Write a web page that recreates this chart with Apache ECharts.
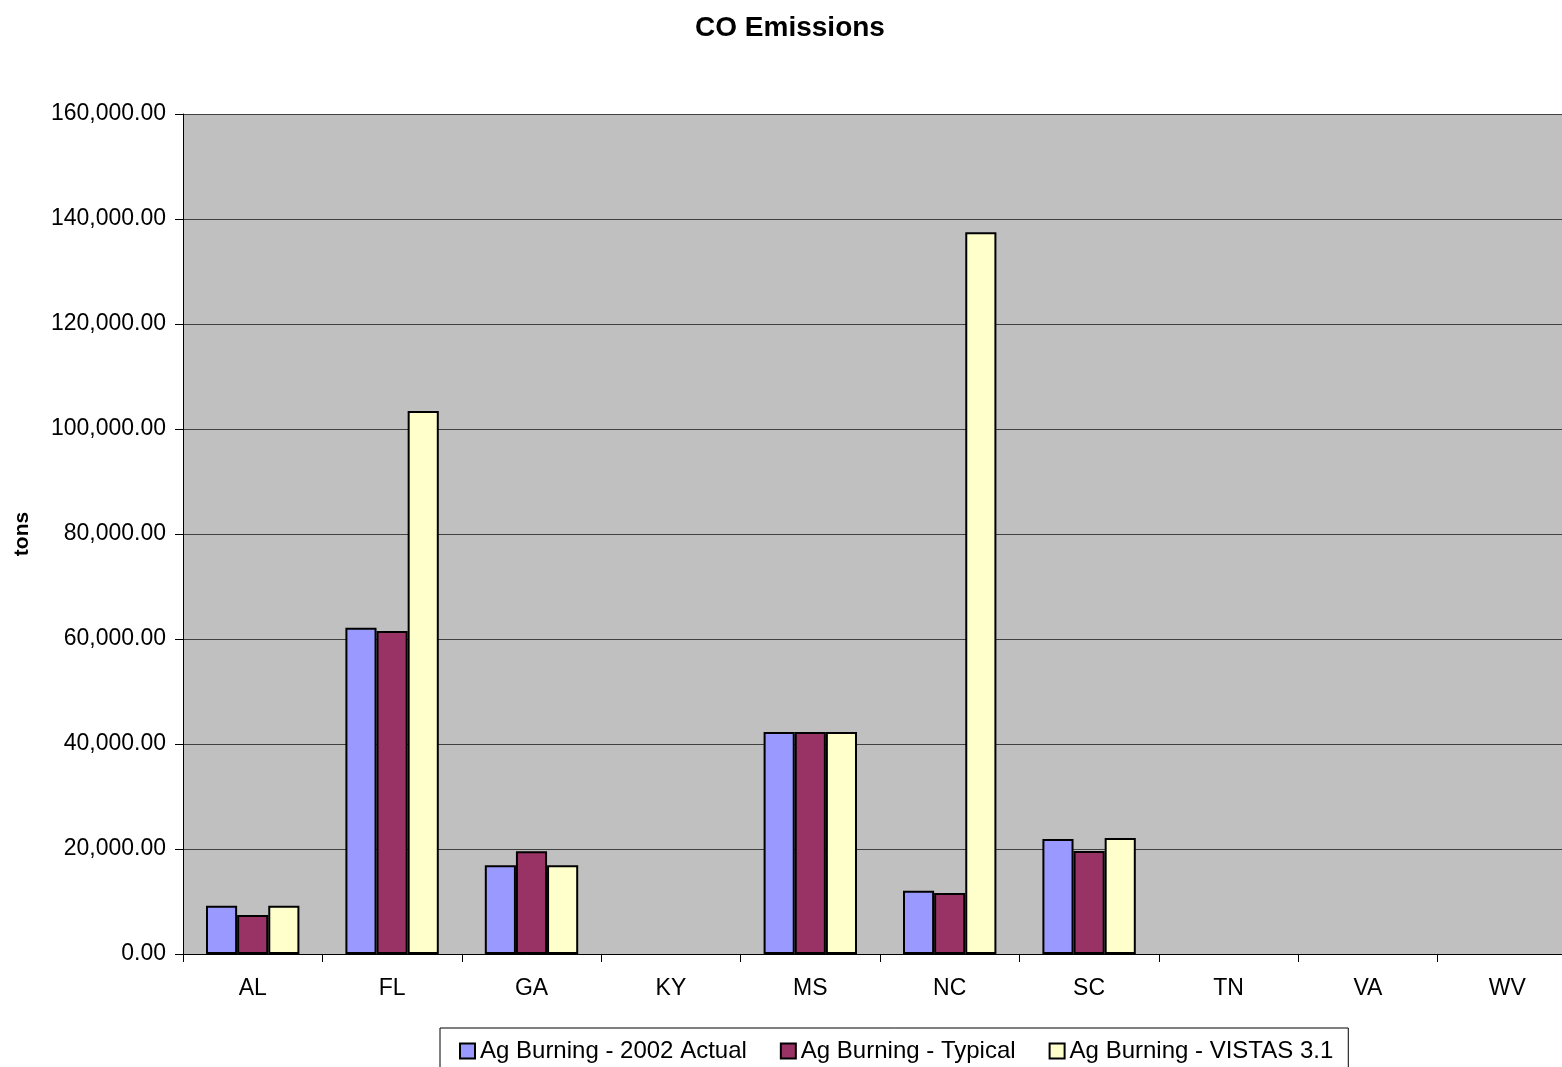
<!DOCTYPE html>
<html><head><meta charset="utf-8">
<script src="https://cdn.jsdelivr.net/npm/echarts@6/dist/echarts.min.js"></script>
<style>html,body{margin:0;padding:0;background:#fff}#c{width:1562px;height:1067px}</style>
</head><body><div id="c"></div>
<script>
const categories = ['AL','FL','GA','KY','MS','NC','SC','TN','VA','WV'];
const seriesNames = ['Ag Burning - 2002 Actual','Ag Burning - Typical','Ag Burning - VISTAS 3.1'];
const actual2002 = [9200, 62150, 16900, 0, 42290, 12060, 21900, 0, 0, 0];
const typical = [7430, 61520, 19560, 0, 42290, 11620, 19600, 0, 0, 0];
const vistas31 = [9200, 103430, 16900, 0, 42290, 137460, 22100, 0, 0, 0];
const colors = ['#9999FF','#993366','#FFFFCC'];
const font = 'Arial, "Liberation Sans", sans-serif';

const chart = echarts.init(document.getElementById('c'), null, {renderer:'canvas'});
const dataSets = [actual2002, typical, vistas31];
chart.setOption({
  animation:false,
  backgroundColor:'#fff',
  title:{text:'CO Emissions', left:785, textAlign:'center', top:9, textStyle:{fontFamily:font, fontSize:28, fontWeight:'bold', color:'#000'}},
  legend:{
    left:440, top:1028,
    padding:[11,15,12,19], itemGap:33,
    borderColor:'#000', borderWidth:1,
    itemWidth:15, itemHeight:15,
    icon:'rect',
    textStyle:{fontFamily:font, fontSize:24, color:'#000'},
    data: seriesNames
  },
  grid:{left:183, top:114, width:1394, height:840, outerBoundsMode:'none', containLabel:false, show:true, backgroundColor:'#C0C0C0', borderWidth:0},
  xAxis:{
    type:'category', data:categories,
    axisLine:{lineStyle:{color:'#000', width:1}},
    axisTick:{show:true, length:8, lineStyle:{color:'#000'}},
    axisLabel:{fontFamily:font, fontSize:23, color:'#000', margin:23}
  },
  yAxis:{
    type:'value', min:0, max:160000, interval:20000,
    name:'tons', nameLocation:'middle', nameGap:150, nameRotate:90,
    nameTextStyle:{fontFamily:font, fontSize:21, fontWeight:'bold', color:'#000'},
    axisLine:{show:true, lineStyle:{color:'#000', width:1}},
    axisTick:{show:true, length:8, lineStyle:{color:'#000'}},
    axisLabel:{fontFamily:font, fontSize:23, color:'#000', margin:17,
      formatter:v=>v.toLocaleString('en-US',{minimumFractionDigits:2, maximumFractionDigits:2})},
    splitLine:{show:true, lineStyle:{color:'#404040', width:1}}
  },
  series: seriesNames.map((n,i)=>({
    name:n, type:'bar', data:dataSets[i].map(v => v === 0 ? null : v),
    barGap:'0%', barCategoryGap:'33%',
    itemStyle:{color:colors[i], borderColor:'#000', borderWidth:2}
  }))
});
</script></body></html>
